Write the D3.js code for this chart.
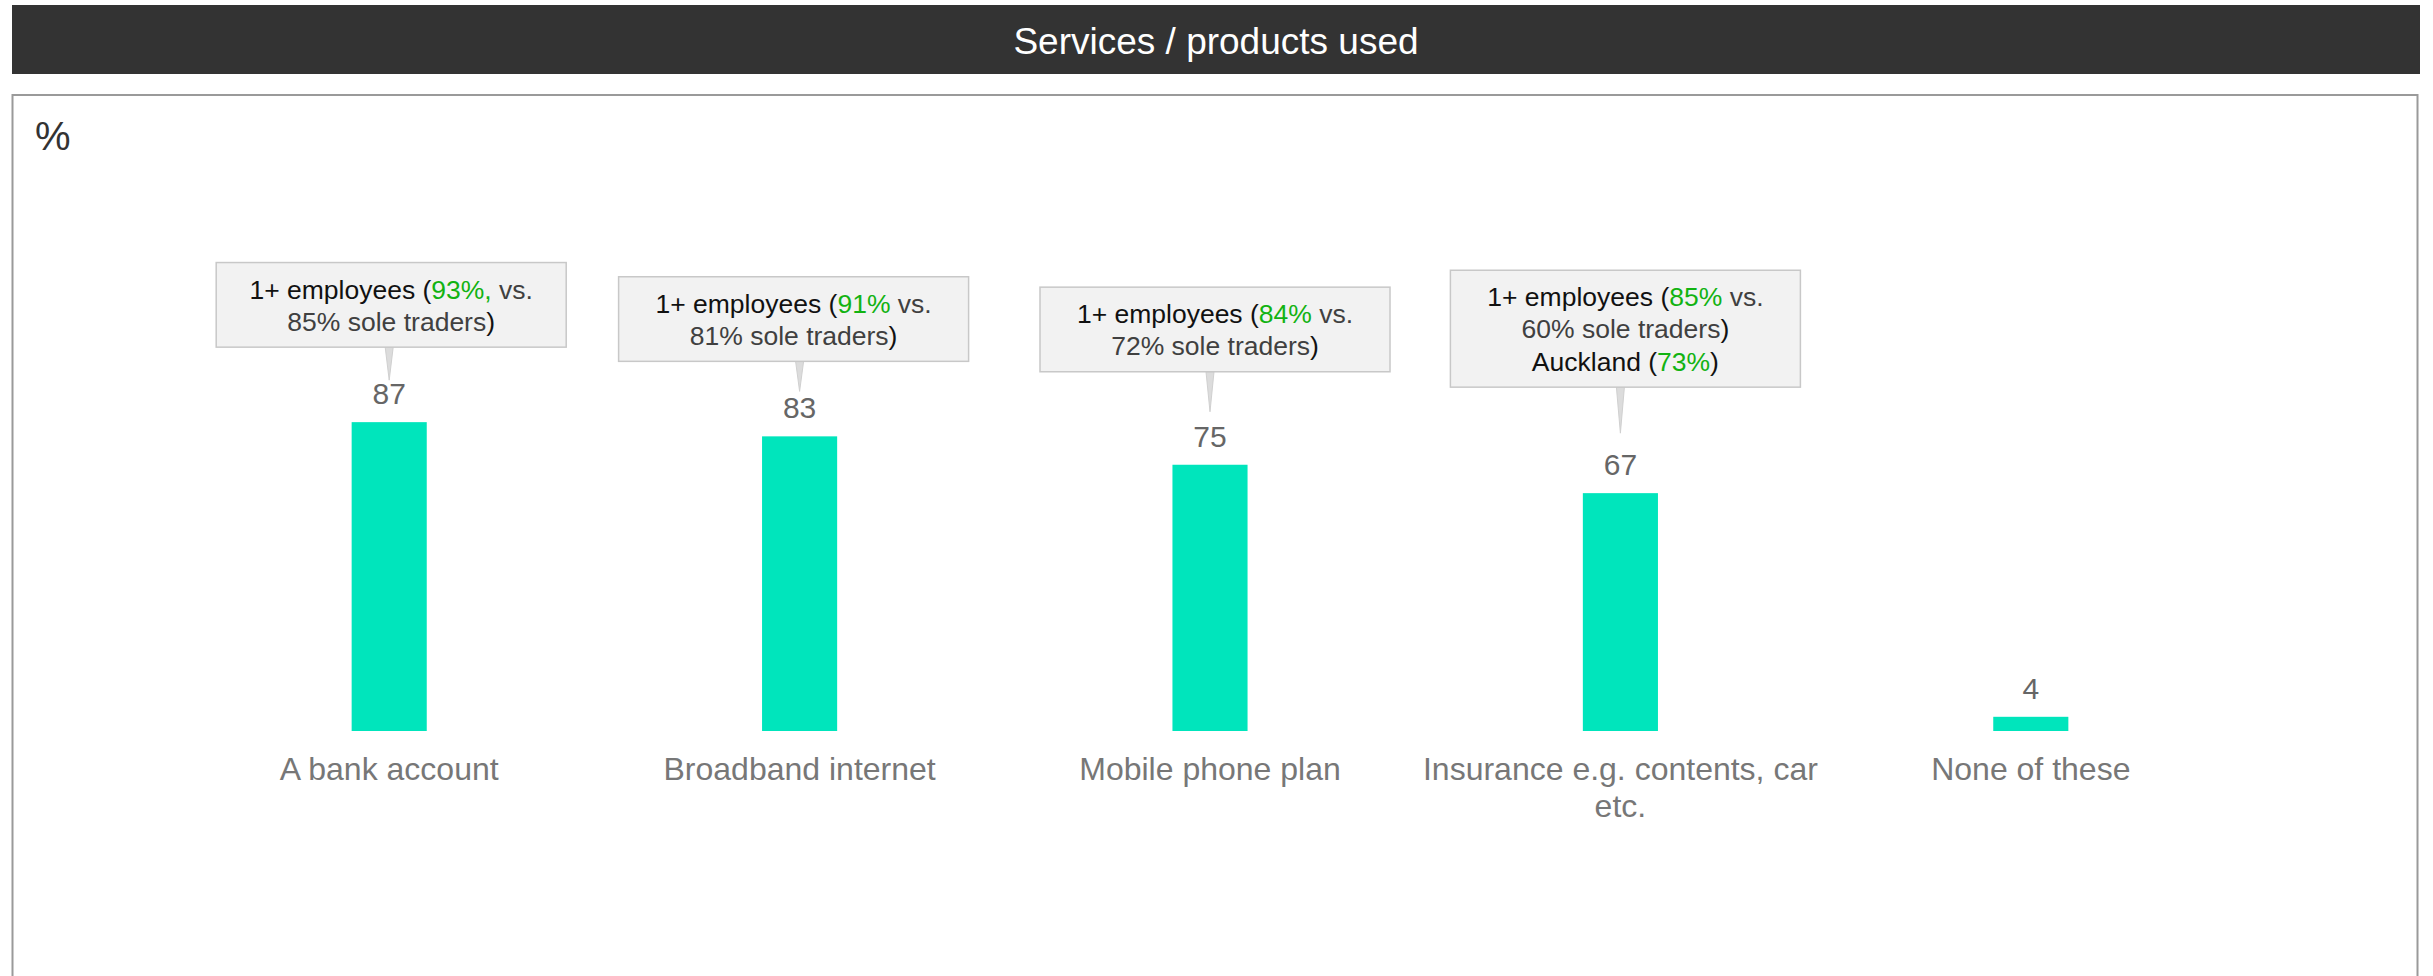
<!DOCTYPE html>
<html>
<head>
<meta charset="utf-8">
<script src="https://cdn.jsdelivr.net/npm/d3@7"></script>
<style>
  html, body { margin: 0; padding: 0; background: #fff; }
  svg { display: block; font-family: "Liberation Sans", Arial, Helvetica, sans-serif; }
</style>
</head>
<body>
<svg id="chart" width="2433" height="976"></svg>
<script>
// ---- data ----
const title = "Services / products used";
const unitLabel = "%";
const categories = ["A bank account", "Broadband internet", "Mobile phone plan", "Insurance e.g. contents, car etc.", "None of these"];
const values = [87, 83, 75, 67, 4];
// annotation texts: each line is a list of [text, style] segments
const annotations = [
  [[["1+ employees (", "k"], ["93%,", "g"], [" vs.", "d"]], [["85% sole traders", "d"], [")", "k"]]],
  [[["1+ employees (", "k"], ["91%", "g"], [" vs.", "d"]], [["81% sole traders", "d"], [")", "k"]]],
  [[["1+ employees (", "k"], ["84%", "g"], [" vs.", "d"]], [["72% sole traders", "d"], [")", "k"]]],
  [[["1+ employees (", "k"], ["85%", "g"], [" vs.", "d"]], [["60% sole traders", "d"], [")", "k"]], [["Auckland (", "k"], ["73%", "g"], [")", "k"]]],
  null
];

// ---- layout (not data) ----
const W = 2433, H = 976;
const boxGap = [75, 75, 93, 106];      // box bottom above bar top
const tipGap = [42, 45, 53, 60];       // pointer tip above bar top
const boxDx = [2, -6, 5, 5];
const segColor = { k: "#111111", g: "#12b312", d: "#404040" };

const svg = d3.select("#chart");

// title bar
svg.append("rect").attr("x", 12).attr("y", 5).attr("width", 2408).attr("height", 69).attr("fill", "#333333");
svg.append("text").attr("x", 1216).attr("y", 54).attr("text-anchor", "middle")
  .attr("fill", "#ffffff").attr("font-size", 37).text(title);

// panel
svg.append("rect").attr("x", 12.5).attr("y", 95).attr("width", 2405).attr("height", 1000)
  .attr("fill", "#ffffff").attr("stroke", "#9a9a9a").attr("stroke-width", 2);

svg.append("text").attr("x", 35).attr("y", 150).attr("fill", "#333333")
  .attr("font-size", 40).text(unitLabel);

// scales
const x = d3.scaleBand().domain(categories).range([184, 2236]).padding(0);
const y = d3.scaleLinear().domain([0, 100]).range([731, 376]);
const barW = x.bandwidth() * 0.183;
const cx = c => x(c) + x.bandwidth() / 2;

const data = categories.map((c, i) => ({ c, v: values[i], ann: annotations[i], i }));

// bars
svg.append("g").selectAll("rect").data(data).join("rect")
  .attr("x", d => cx(d.c) - barW / 2)
  .attr("y", d => y(d.v))
  .attr("width", barW)
  .attr("height", d => y(0) - y(d.v))
  .attr("fill", "#00e5bc");

// value labels
svg.append("g").selectAll("text").data(data).join("text")
  .attr("x", d => cx(d.c))
  .attr("y", d => y(d.v) - 18)
  .attr("text-anchor", "middle")
  .attr("font-size", 30)
  .attr("fill", "#666666")
  .text(d => d.v);

// category axis labels (wrapped)
const axis = d3.axisBottom(x).tickSize(0).tickPadding(0);
const gAxis = svg.append("g").attr("transform", `translate(0, ${y(0)})`).call(axis);
gAxis.select(".domain").remove();
gAxis.selectAll(".tick text")
  .attr("font-size", 32)
  .attr("font-family", "\"Liberation Sans\", Arial, sans-serif")
  .attr("fill", "#777777")
  .attr("dy", null)
  .attr("y", 49)
  .each(function(d) {
    const t = d3.select(this);
    const words = d.split(" ");
    t.text(null);
    let line = [];
    let ts = t.append("tspan").attr("x", 0).attr("y", 49);
    let lineNo = 0;
    const maxW = x.bandwidth() * 0.98;
    words.forEach(w => {
      line.push(w);
      ts.text(line.join(" "));
      if (ts.node().getComputedTextLength() > maxW && line.length > 1) {
        line.pop();
        ts.text(line.join(" "));
        line = [w];
        lineNo++;
        ts = t.append("tspan").attr("x", 0).attr("y", 49 + lineNo * 37).text(w);
      }
    });
  });

// annotations
const annG = svg.append("g");
data.filter(d => d.ann).forEach(d => {
  const lines = d.ann;
  const bx = cx(d.c) + boxDx[d.i];
  const bw = 350;
  const bh = 20 + lines.length * 32.3;
  const bottom = y(d.v) - boxGap[d.i];
  const top = bottom - bh;
  const tip = y(d.v) - tipGap[d.i];
  const px = cx(d.c);
  // pointer
  annG.append("path")
    .attr("d", `M${px - 4},${bottom} L${px},${tip} L${px + 4},${bottom} Z`)
    .attr("fill", "#dcdcdc").attr("stroke", "#d0d0d0").attr("stroke-width", 1);
  // box
  annG.append("rect")
    .attr("x", bx - bw / 2).attr("y", top).attr("width", bw).attr("height", bh)
    .attr("fill", "#f2f2f2").attr("stroke", "#c8c8c8").attr("stroke-width", 1.5);
  lines.forEach((segs, li) => {
    const t = annG.append("text")
      .attr("x", bx).attr("y", top + 36 + li * 32.2)
      .attr("text-anchor", "middle").attr("font-size", 26.5);
    segs.forEach(([txt, st]) => {
      t.append("tspan").attr("fill", segColor[st]).style("white-space", "pre").text(txt);
    });
  });
});
</script>
</body>
</html>
